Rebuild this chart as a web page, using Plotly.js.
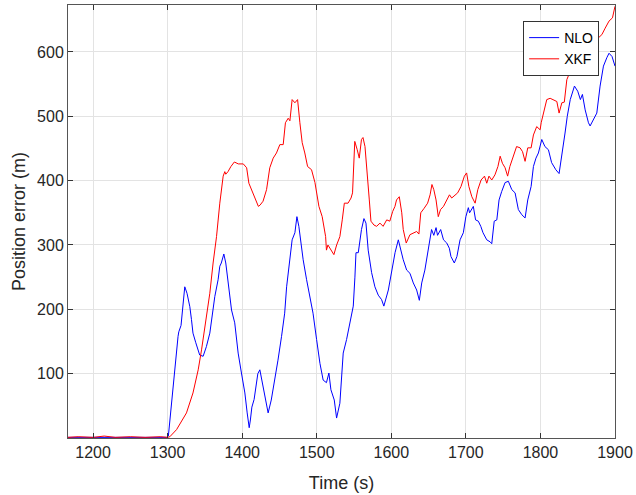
<!DOCTYPE html>
<html>
<head>
<meta charset="utf-8">
<script src="https://cdn.plot.ly/plotly-3.0.1.min.js"></script>
<style>html,body{margin:0;padding:0;background:#fff;}#chart{width:636px;height:495px;}</style>
</head>
<body>
<div id="chart"></div>
<script>
const xTicks = [1200, 1300, 1400, 1500, 1600, 1700, 1800, 1900];
const yTicks = [100, 200, 300, 400, 500, 600];

const nloTime = [1166,1200,1250,1299,1301,1307,1312,1314,1315,1318,1320,1323,1326,1329.8,1332,1334,1337.8,1340,1343,1347.6,1352,1356.6,1359,1363.3,1367.7,1370,1372,1375.4,1378,1381,1385.7,1390,1394.6,1399,1403.6,1406.7,1409.4,1411,1413,1416,1419,1421,1423.7,1428,1434.8,1439,1443.8,1448,1452.8,1457,1459.6,1461.7,1465.3,1467,1470.7,1473.4,1476,1478.7,1481.8,1486.4,1490.8,1495,1499.8,1504.3,1508.6,1513,1516.3,1519,1523.5,1526.6,1531,1535.5,1540,1544.5,1549,1551.2,1552.6,1555.7,1560,1563.3,1566,1569,1573.6,1578,1582.5,1587,1590,1596,1600.5,1605,1609.4,1611.6,1616,1620.6,1625,1629.5,1634,1637.6,1640.8,1645,1649.6,1654,1657,1660,1662,1666.2,1670,1674.4,1677.8,1680,1684.5,1688,1692.2,1696.6,1700,1703.3,1705,1710,1713,1716.7,1720,1723,1728,1732.4,1734.7,1738,1741.5,1744.5,1748,1752.6,1757,1761.6,1766,1770.4,1775,1779.4,1783,1787.5,1790.6,1794,1797.3,1801.8,1806,1810.7,1815,1820.6,1825,1828.7,1833,1836,1840,1845.6,1850,1853.6,1856.3,1860,1864.4,1866.6,1871,1875.6,1880,1884.5,1889,1892,1896,1899.3,1900];
const nloError = [1,1,1,1,3,80,140,158,165,175,199,235,225,204,184,163,148,140,129,127,142,163,184,220,246,267,272,286,272,241,199,179,132,101,70,39,16,28,48,60,90,100,106,80,39,59,90,121,158,194,235,257,288,308,319,344,329,303,277,246,220,194,153,116,90,86,101,75,59,31,54,132,153,178,205,250,288,288,324,341,334,292,257,235,222,215,205,230,261,288,308,296,277,261,256,241,230,214,241,261,292,324,315,327,315,324,308,303,295,282,272,282,308,319,344,358,350,360,339,337,329,319,308,305,302,337,339,370,383,397,399,386,381,355,347,342,370,391,422,435,443,464,453,448,428,417,411,438,474,500,526,547,539,526,534,510,490,485,495,505,547,578,591,598,593,578,578];

const xkfTime = [1166,1180,1200,1215,1230,1250,1270,1290,1300,1303,1312,1318,1325.3,1334,1341,1345.5,1352,1356.6,1361,1365.6,1370,1374.5,1376.7,1378,1381,1384.9,1389.5,1394.8,1401.5,1406,1409,1412.7,1417,1421.7,1424,1428,1432.7,1437,1441.6,1446,1450.5,1455,1458,1461.7,1464,1467,1470.7,1474.3,1477.4,1480.5,1484,1487.7,1493,1497.6,1502.9,1507.3,1511.9,1513,1515,1520,1523,1526.7,1531,1534.2,1537,1542,1546,1548,1551,1554.3,1557,1560,1562,1564.7,1568,1570.5,1572.7,1576.7,1580.3,1584.8,1589,1593.8,1598,1601.8,1604.9,1607,1610.7,1614,1616,1620,1625,1629.5,1634,1637,1639.5,1644,1648.7,1652,1654.5,1657,1660,1663,1666,1670,1674,1678,1681,1685.5,1689,1693.5,1698,1701,1704,1708,1712.4,1716,1720.4,1725,1728,1731,1734.7,1739,1743,1746,1749,1752.6,1756,1759,1763.7,1768,1772.7,1776,1779.4,1783,1787.5,1790.6,1795,1799.6,1801,1805.3,1808.5,1813,1817.4,1822,1825,1828.7,1832,1835.4,1840,1844.3,1848.8,1853.3,1857,1862,1866.6,1872.4,1877.8,1882.4,1886.8,1892,1896.6,1900];
const xkfError = [1,2,1,3,1,2,1,2,1,2,13,24,39,70,106,137,189,225,272,313,365,407,414,410,414,422,429,426,426,420,396,386,372,360,362,368,386,420,435,443,456,456,490,497,493,526,521,526,490,459,443,422,417,397,360,344,313,292,300,290,285,300,313,339,365,365,373,381,461,448,435,464,467,453,412,370,337,331,329,334,329,339,337,352,360,370,375,350,324,303,316,319,321,317,350,357,365,378,394,386,370,344,355,360,370,378,373,378,381,391,407,412,391,375,365,386,401,407,396,407,401,409,422,438,427,420,407,422,438,453,451,445,430,451,451,471,484,479,490,510,526,528,526,523,505,521,522,557,570,578,580,591,590,601,606,612,622,627,637,648,653,671];

const font = 'Liberation Sans, Arial, Helvetica, sans-serif';
const axisColor = '#262626';

const traces = [
  {x: nloTime, y: nloError, name: 'NLO', type: 'scatter', mode: 'lines',
   line: {color: '#0000ff', width: 1}},
  {x: xkfTime, y: xkfError, name: 'XKF', type: 'scatter', mode: 'lines',
   line: {color: '#ff0000', width: 1}}
];

const axisCommon = {
  showline: true, linecolor: '#555555', linewidth: 1, mirror: 'ticks',
  ticks: 'inside', ticklen: 5, tickwidth: 1, tickcolor: '#333333',
  showgrid: true, gridcolor: '#e3e3e3', gridwidth: 1, zeroline: false,
  tickfont: {family: font, size: 16, color: axisColor}
};

const layout = {
  width: 636, height: 495,
  margin: {l: 68, r: 21, t: 5, b: 57},
  paper_bgcolor: '#ffffff', plot_bgcolor: '#ffffff',
  font: {family: font, color: axisColor},
  showlegend: true,
  legend: {x: 0.971, y: 0.963, xanchor: 'right', yanchor: 'top',
    bgcolor: '#ffffff', bordercolor: '#333333', borderwidth: 1,
    font: {family: font, size: 14, color: '#000000'}, tracegroupgap: 0},
  xaxis: Object.assign({}, axisCommon, {
    range: [1166.4, 1900], tickvals: xTicks, ticktext: xTicks.map(String),
    title: {text: 'Time (s)', font: {family: font, size: 18, color: axisColor}, standoff: 16}
  }),
  yaxis: Object.assign({}, axisCommon, {
    range: [0, 673], tickvals: yTicks, ticktext: yTicks.map(String),
    title: {text: 'Position error (m)', font: {family: font, size: 18, color: axisColor}, standoff: 6}
  })
};

Plotly.newPlot('chart', traces, layout, {displayModeBar: false, staticPlot: true});
</script>
</body>
</html>
